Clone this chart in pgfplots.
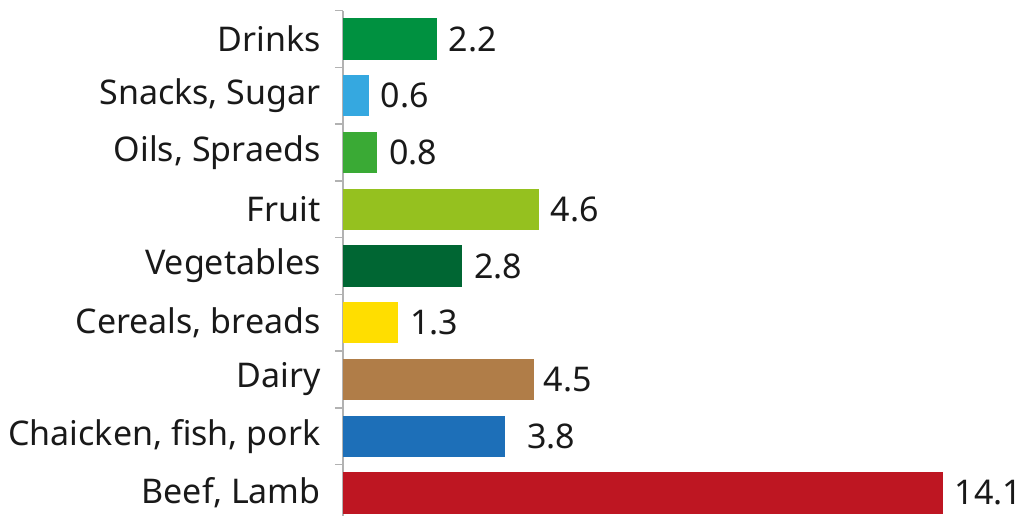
\documentclass[border=0pt]{standalone}
\usepackage{pgfplots}
\pgfplotsset{compat=1.18}
\usepackage{fontspec}
\setmainfont{Noto Sans}
\definecolor{cDrinks}{HTML}{009140}
\definecolor{cSnacks}{HTML}{35A8E0}
\definecolor{cOils}{HTML}{3AAA35}
\definecolor{cFruit}{HTML}{95C11F}
\definecolor{cVeg}{HTML}{006633}
\definecolor{cCereal}{HTML}{FFDE00}
\definecolor{cDairy}{HTML}{B07D48}
\definecolor{cChicken}{HTML}{1D6FB8}
\definecolor{cBeef}{HTML}{BE1622}
\newcommand{\lblfont}{\fontsize{25.5}{28}\selectfont}
\begin{document}
\begin{tikzpicture}
\useasboundingbox (0,0) rectangle (768.75pt,387pt);
\begin{axis}[
  at={(257.25pt,-4pt)}, anchor=south west,
  scale only axis, width=511.5pt, height=383pt,
  xmin=0, xmax=16.03, ymin=-0.5, ymax=8.5,
  clip=false,
  hide x axis,
  axis y line*=left,
  y axis line style={draw=gray!60, line width=1.1pt},
  xbar, bar width=31pt, bar shift=0pt,
  ytick={0,...,8},
  yticklabels={{Beef, Lamb},{Chaicken, fish, pork},{Dairy},{Cereals, breads},{Vegetables},{Fruit},{Oils, Spraeds},{Snacks, Sugar},{Drinks}},
  major y tick style={draw=none},
  minor ytick={-0.5,0.5,...,8.5},
  tick align=outside,
  minor tick length=6pt,
  minor y tick style={draw=gray!60, line width=1pt},
  yticklabel style={font=\lblfont, text=black!90, xshift=-9pt},
  point meta=x,
  nodes near coords,
  nodes near coords style={font=\lblfont, text=black!90, anchor=west, xshift=5.5pt,
    /pgf/number format/fixed, /pgf/number format/fixed zerofill, /pgf/number format/precision=1,
    /pgf/number format/assume math mode=true},
  every axis plot/.append style={draw=none},
]
\addplot[fill=cBeef] coordinates {(14.1,0)};
\addplot[fill=cChicken, nodes near coords style={xshift=8pt}] coordinates {(3.8,1)};
\addplot[fill=cDairy, nodes near coords style={xshift=-2pt}] coordinates {(4.5,2)};
\addplot[fill=cCereal] coordinates {(1.3,3)};
\addplot[fill=cVeg] coordinates {(2.8,4)};
\addplot[fill=cFruit] coordinates {(4.6,5)};
\addplot[fill=cOils] coordinates {(0.8,6)};
\addplot[fill=cSnacks] coordinates {(0.6,7)};
\addplot[fill=cDrinks] coordinates {(2.2,8)};
\end{axis}
\end{tikzpicture}
\end{document}
